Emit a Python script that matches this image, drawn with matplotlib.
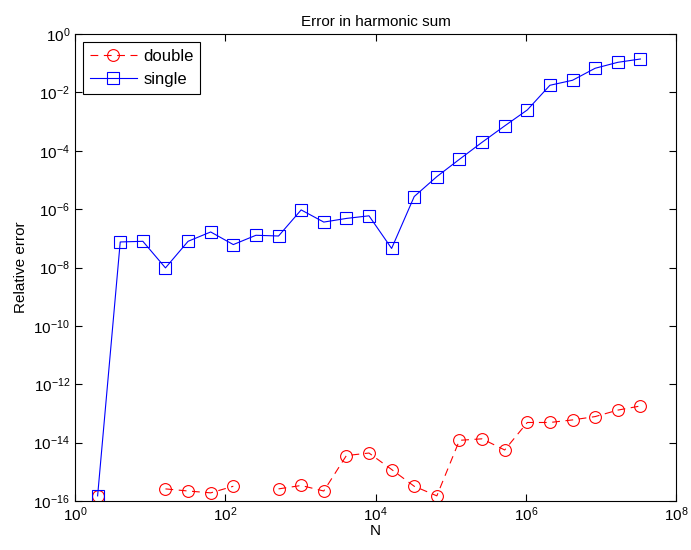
import matplotlib
matplotlib.use('Agg')
import matplotlib.pyplot as plt
import numpy as np

plt.rcParams.update({
    'font.family': 'Liberation Sans',
    'font.size': 11,
    'xtick.direction': 'in',
    'ytick.direction': 'in',
    'xtick.top': True,
    'ytick.right': True,
    'axes.linewidth': 0.8,
})

# N = 2^k, k = 1..25
N = [2.0 ** k for k in range(1, 26)]

# relative error, double precision (NaN where error was exactly zero)
err_double = [1.5e-16, np.nan, np.nan, 2.6e-16, 2.2e-16, 1.9e-16, 3.2e-16, np.nan,
              2.6e-16, 3.4e-16, 2.2e-16, 3.6e-15, 4.4e-15, 1.2e-15, 3.2e-16, 1.5e-16,
              1.2e-14, 1.35e-14, 5.6e-15, 4.9e-14, 4.9e-14, 6.0e-14, 7.8e-14, 1.3e-13,
              1.8e-13]

# relative error, single precision
err_single = [1.5e-16, 7.5e-8, 7.9e-8, 9.7e-9, 7.9e-8, 1.65e-7, 6.1e-8, 1.27e-7,
              1.2e-7, 9.4e-7, 3.6e-7, 4.8e-7, 5.9e-7, 4.5e-8, 2.7e-6, 1.3e-5,
              5.1e-5, 1.95e-4, 7.1e-4, 2.5e-3, 1.75e-2, 2.6e-2, 6.7e-2, 1.07e-1,
              1.39e-1]

fig = plt.figure(figsize=(6.91, 5.5), dpi=100)
ax = fig.add_axes([75 / 691, 49 / 550, 601 / 691, 467 / 550])

ax.loglog(N, err_double, color='red', linestyle='--', dashes=(7, 5), marker='o',
          markersize=8.5, markerfacecolor='none', markeredgewidth=0.8, linewidth=0.8,
          label='double')
ax.loglog(N, err_single, color='blue', linestyle='-', marker='s',
          markersize=8.5, markerfacecolor='none', markeredgewidth=0.8, linewidth=0.8,
          label='single')

ax.set_xlim(1, 1e8)
ax.set_ylim(1e-16, 1)
ax.set_xticks([10.0 ** k for k in range(0, 9, 2)])
ax.set_yticks([10.0 ** k for k in range(-16, 1, 2)])
ax.minorticks_off()
ax.tick_params(length=5, width=0.8)

ax.set_xlabel('N', labelpad=0)
ax.set_ylabel('Relative error')
ax.set_title('Error in harmonic sum', fontsize=11)

leg = ax.legend(loc='upper left', fancybox=False, framealpha=1, edgecolor='black',
                handlelength=2.8, handletextpad=0.4, borderaxespad=0.5, fontsize=12)
leg.get_frame().set_linewidth(0.8)

fig.savefig('out.png', dpi=100)
